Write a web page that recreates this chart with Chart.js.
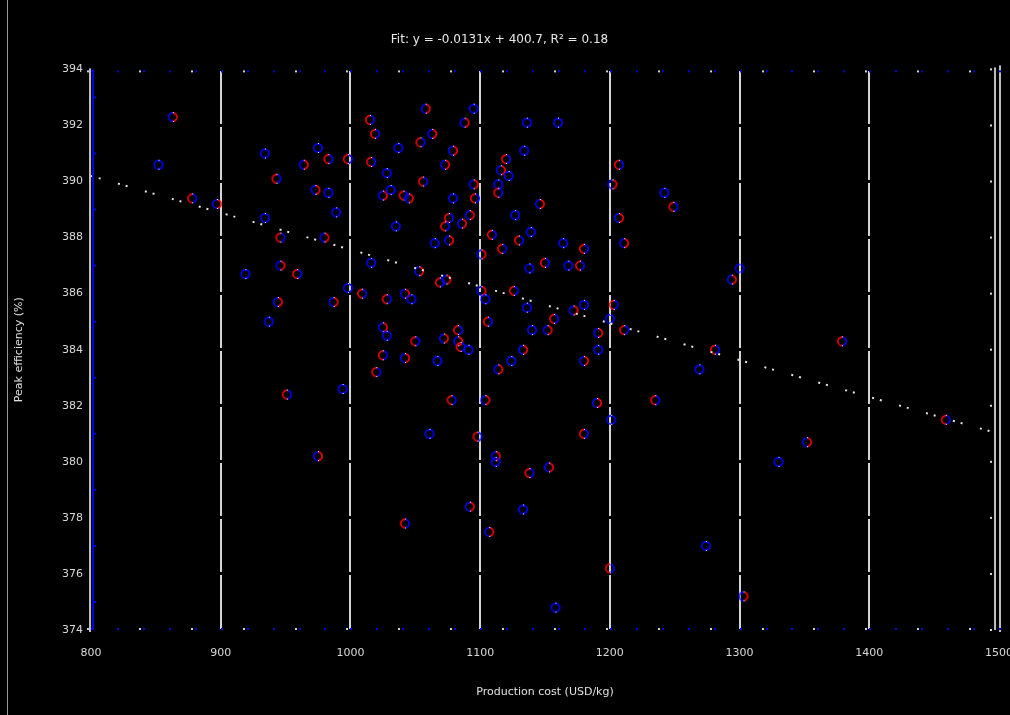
<!DOCTYPE html>
<html>
<head>
<meta charset="utf-8">
<script src="https://cdn.jsdelivr.net/npm/chart.js@4.4.1/dist/chart.umd.min.js"></script>
<style>
  html, body { margin: 0; padding: 0; background: #000; }
  #wrap { position: relative; width: 1010px; height: 715px; }
  #frame { position: absolute; left: 7px; top: 0; width: 1px; height: 715px; background: #9a9a9a; }
</style>
</head>
<body>
<div id="wrap">
  <canvas id="grafica" width="1010" height="715"></canvas>
  <div id="frame"></div>
</div>
<script>
// tick labels
const xTicks = [800, 900, 1000, 1100, 1200, 1300, 1400, 1500];
const yTicks = [374, 376, 378, 380, 382, 384, 386, 388, 390, 392, 394];

// scatter values
const costX = [
  863, 852, 878, 897, 934, 943, 964, 934, 946, 946, 919, 959, 944, 937, 951, 975,
  975, 983, 973, 983, 998,
  1058, 1095, 1015, 1088, 1136, 1019, 1063, 1037, 1054, 1079, 1134, 1016, 1073, 1028,
  1120, 1116, 1122, 1056, 1095, 1114, 1114, 1025, 1031, 1041, 1045, 1079, 1096, 1146,
  989, 1076, 1092, 1127, 1073, 1086, 1035, 1109, 980, 1139, 1130, 1076, 1065, 1117,
  1101, 1016, 1150, 1053, 1138, 1069, 1074, 998, 1009, 1101, 1104, 1126, 1042, 1047,
  1028, 987, 1136, 1106, 1025, 1028, 1083, 1083, 1140, 1050, 1072, 1091, 1085, 1133,
  1124, 1025, 1042, 1067, 1020, 1114, 994, 1078, 1104, 1061, 1098, 1112, 1112, 1138,
  1092, 1133, 1042, 1107,
  1160, 1207, 1202, 1242, 1249, 1207, 1164, 1180, 1211, 1168, 1177, 1294, 1300, 1203,
  1172, 1180, 1157, 1152, 1200, 1211, 1191, 1191, 1281, 1180, 1269, 1235, 1190, 1201,
  1180, 1153, 1274, 1200, 1303, 1158,
  1379, 1352, 1330, 1459
];
const peakY = [
  392.3, 390.6, 389.4, 389.2, 391.0, 390.1, 390.6, 388.7, 388.0, 387.0, 386.7, 386.7, 385.7, 385.0, 382.4, 380.2,
  391.2, 390.8, 389.7, 389.6, 390.8,
  392.6, 392.6, 392.2, 392.1, 392.1, 391.7, 391.7, 391.2, 391.4, 391.1, 391.1, 390.7, 390.6, 390.3,
  390.8, 390.4, 390.2, 390.0, 389.9, 389.9, 389.6, 389.5, 389.7, 389.5, 389.4, 389.4, 389.4, 389.2,
  388.9, 388.7, 388.8, 388.8, 388.4, 388.5, 388.4, 388.1, 388.0, 388.2, 387.9, 387.9, 387.8, 387.6,
  387.4, 387.1, 387.1, 386.8, 386.9, 386.4, 386.5, 386.2, 386.0, 386.1, 385.8, 386.1, 386.0, 385.8,
  385.8, 385.7, 385.5, 385.0, 384.8, 384.5, 384.7, 384.3, 384.7, 384.3, 384.4, 384.0, 384.1, 384.0,
  383.6, 383.8, 383.7, 383.6, 383.2, 383.3, 382.6, 382.2, 382.2, 381.0, 380.9, 380.2, 380.0, 379.6,
  378.4, 378.3, 377.8, 377.5,
  392.1, 390.6, 389.9, 389.6, 389.1, 388.7, 387.8, 387.6, 387.8, 387.0, 387.0, 386.5, 386.9, 385.6,
  385.4, 385.6, 385.1, 384.7, 385.1, 384.7, 384.6, 384.0, 384.0, 383.6, 383.3, 382.2, 382.1, 381.5,
  381.0, 379.8, 377.0, 376.2, 375.2, 374.8,
  384.3, 380.7, 380.0, 381.5
];

// fitted line ends
const trendX = [800, 1500];
const trendY = [390.2, 381.0];

const puntos = costX.map((v, i) => ({ x: v, y: peakY[i] }));
const tendencia = trendX.map((v, i) => ({ x: v, y: trendY[i] }));

// small ring marker, blue / red halves like the picture
const makeGlyph = (left, right) => {
    const g = document.createElement('canvas');
    g.width = 12; g.height = 12;
    const c = g.getContext('2d');
    c.lineWidth = 1.6;
    c.strokeStyle = left;
    c.beginPath(); c.arc(6, 6, 4.2, Math.PI * 0.45, Math.PI * 1.55); c.stroke();
    c.strokeStyle = right;
    c.beginPath(); c.arc(6, 6, 4.2, -Math.PI * 0.45, Math.PI * 0.45); c.stroke();
    c.fillStyle = '#ffffff';
    c.fillRect(6, 1, 1, 1); c.fillRect(6, 10, 1, 1);
    return g;
};
const glyphs = [
    makeGlyph('#0000ff', '#ff0000'),
    makeGlyph('#0000ff', '#0000ff'),
    makeGlyph('#ff0000', '#0000ff')
];

// axis trim: blue inner axis, dotted top/bottom rows, double right edge
const axisDecor = {
    id: 'axisDecor',
    afterDraw(chart) {
        const { ctx, chartArea: a, scales: { x, y } } = chart;
        ctx.save();
        ctx.fillStyle = '#bdbdbd';
        ctx.fillRect(a.left - 2, a.top - 1, 2, a.bottom - a.top + 3);
        ctx.fillStyle = '#0000e6';
        ctx.fillRect(a.left + 1, a.top, 2, a.bottom - a.top);
        for (let v = 375; v < 394; v += 2) {
            ctx.fillRect(a.left + 3, y.getPixelForValue(v) - 1, 2, 2);
        }
        ctx.fillStyle = '#bdbdbd';
        ctx.fillRect(a.right - 5, a.top - 2, 2, a.bottom - a.top + 2);
        ctx.fillRect(a.right, a.top - 4, 2, a.bottom - a.top + 6);
        ctx.fillStyle = '#d8d8d8';
        yTicks.forEach(v => ctx.fillRect(a.right - 9, y.getPixelForValue(v) - 1, 2, 2));
        for (let v = 800; v <= 1500; v += 20) {
            const px = Math.round(x.getPixelForValue(v));
            ctx.fillStyle = '#0000e6';
            ctx.fillRect(px, a.top + 1, 2, 2);
            ctx.fillRect(px, a.bottom - 2, 2, 2);
            if (v % 40 === 0) {
                ctx.fillStyle = '#d0d0d0';
                ctx.fillRect(px - 4, a.top + 1, 2, 2);
                ctx.fillRect(px - 4, a.bottom - 2, 2, 2);
            }
        }
        ctx.restore();
    }
};

const canvas = document.getElementById('grafica');
new Chart(canvas, {
    type: 'scatter',
    data: {
        datasets: [
            {
                label: 'fit',
                data: tendencia,
                showLine: true,
                borderColor: '#e6e6e6',
                borderWidth: 2,
                borderDash: [2, 6, 2, 18],
                pointRadius: 0,
                fill: false
            },
            {
                label: 'samples',
                data: puntos,
                pointStyle: ctx => glyphs[ctx.dataIndex % 3],
                pointRadius: 5,
                backgroundColor: 'transparent',
                borderColor: '#0000ff'
            }
        ]
    },
    options: {
        responsive: false,
        animation: false,
        devicePixelRatio: 1,
        layout: { padding: { left: 0, right: 11, top: 0, bottom: 0 } },
        plugins: {
            legend: { display: false },
            tooltip: { enabled: false },
            title: {
                display: true,
                text: 'Fit: y = -0.0131x + 400.7, R\u00b2 = 0.18',
                color: '#e8e8e8',
                font: { family: 'DejaVu Sans', size: 12, weight: 'normal' },
                padding: { top: 33, bottom: 22 }
            }
        },
        scales: {
            x: {
                type: 'linear',
                min: 800, max: 1500,
                afterBuildTicks: s => { s.ticks = xTicks.map(v => ({ value: v })); },
                afterFit: s => { s.height = 85; s.paddingLeft = 0; s.paddingRight = 0; },
                ticks: {
                    color: '#d8d8d8',
                    font: { family: 'DejaVu Sans', size: 11 },
                    padding: 17,
                    callback: v => String(v)
                },
                grid: {
                    z: -1,
                    lineWidth: 2,
                    drawTicks: false,
                    color: c => (c.tick && (c.tick.value === 800 || c.tick.value === 1500)) ? 'rgba(0,0,0,0)' : '#d4d4d4'
                },
                border: { display: false },
                title: {
                    display: true,
                    text: 'Production cost (USD/kg)',
                    color: '#e0e0e0',
                    font: { family: 'DejaVu Sans', size: 11 },
                    padding: { top: 0, bottom: 16 }
                }
            },
            y: {
                type: 'linear',
                min: 374, max: 394,
                afterBuildTicks: s => { s.ticks = yTicks.map(v => ({ value: v })); },
                afterFit: s => { s.width = 91; s.paddingTop = 0; s.paddingBottom = 0; },
                ticks: {
                    color: '#d8d8d8',
                    font: { family: 'DejaVu Sans', size: 11 },
                    padding: 8,
                    callback: v => String(v)
                },
                grid: { lineWidth: 3, drawTicks: false, color: '#000000' },
                border: { display: false },
                title: {
                    display: true,
                    text: 'Peak efficiency (%)',
                    color: '#e0e0e0',
                    font: { family: 'DejaVu Sans', size: 11 },
                    padding: { top: 13 }
                }
            }
        }
    },
    plugins: [axisDecor]
});
</script>
</body>
</html>
